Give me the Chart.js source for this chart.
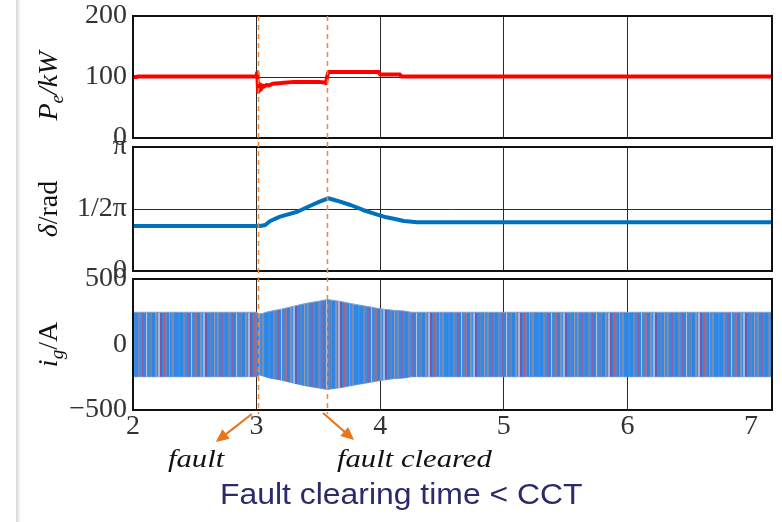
<!DOCTYPE html>
<html lang="en">
<head>
<meta charset="UTF-8">
<title>Fault clearing time &lt; CCT</title>
<script src="https://cdn.jsdelivr.net/npm/chart.js"></script>
<style>
  body { margin: 0; background: #fff; }
  #tela { position: relative; width: 782px; height: 522px; overflow: hidden; }
  #tela canvas { position: absolute; left: 0; }
  .faixa { position: absolute; left: 16px; top: 0; width: 5px; height: 522px;
           background: linear-gradient(to right, #d6d6d6, #ececec, #ffffff); }
  .nota { position: absolute; font-family: "Liberation Serif", "Times New Roman", serif;
          font-style: italic; font-size: 26px; color: #111; white-space: nowrap;
          transform-origin: left top; transform: scaleX(1.18); }
  #titulo { position: absolute; left: 220px; top: 478px; white-space: nowrap;
            font-family: "Liberation Sans", Arial, sans-serif; font-size: 29px; color: #2b2a6b;
            transform-origin: left top; transform: scaleX(1.1); }
</style>
</head>
<body>
<div id="tela">
  <div class="faixa"></div>
  <canvas id="g1" width="782" height="155" style="top:0px"></canvas>
  <canvas id="g2" width="782" height="155" style="top:130px"></canvas>
  <canvas id="g3" width="782" height="180" style="top:265px"></canvas>
  <canvas id="marcas" width="782" height="522" style="top:0px;pointer-events:none"></canvas>
  <div class="nota" style="left:168px;top:444px">fault</div>
  <div class="nota" style="left:337px;top:444px">fault cleared</div>
  <div id="titulo">Fault clearing time &lt; CCT</div>
</div>

<script>
    // dados
    const xTicks = [2, 3, 4, 5, 6, 7];
    const faultTime = 3.01;
    const clearTime = 3.57;

    // potencia eletrica (kW)
    const powerTime = [2.00, 2.03, 2.035, 3.00, 3.004, 3.008, 3.012, 3.016, 3.02, 3.025, 3.03, 3.035, 3.04, 3.05, 3.06, 3.08, 3.10, 3.13, 3.20, 3.30, 3.40, 3.50, 3.55, 3.562, 3.57, 3.58, 3.80, 3.99, 4.00, 4.16, 4.17, 5.00, 6.00, 7.17];
    const powerKW = [100, 100, 101, 101, 107, 95, 76, 90, 78, 88, 80, 87, 82, 86, 84, 87, 86, 89, 90, 92, 92, 92, 91, 90, 100, 108, 108, 108, 104, 104, 101, 101, 101, 101];
    const powerTicks = [0, 100, 200];
    const powerLabels = ['0', '100', '200'];

    // angulo delta (rad)
    const deltaTime = [2.0, 3.03, 3.07, 3.11, 3.19, 3.33, 3.43, 3.51, 3.58, 3.65, 3.76, 3.86, 3.97, 4.05, 4.13, 4.19, 4.30, 7.17];
    const deltaRad = [1.14, 1.14, 1.165, 1.266, 1.376, 1.502, 1.647, 1.756, 1.842, 1.781, 1.672, 1.546, 1.436, 1.360, 1.310, 1.266, 1.234, 1.234];
    const deltaTicks = [0, Math.PI / 2, Math.PI];
    const deltaLabels = ['0', '1/2\u03c0', '\u03c0'];

    // envoltoria da corrente ig (A)
    const currentTime = [2.0, 3.0, 3.02, 3.05, 3.1, 3.2, 3.3, 3.4, 3.5, 3.57, 3.6, 3.7, 3.8, 3.9, 4.0, 4.1, 4.2, 4.25, 7.17];
    const currentUpper = [246, 246, 232, 238, 252, 270, 292, 314, 330, 343, 340, 325, 306, 290, 272, 262, 255, 246, 246];
    const currentLower = [-246, -246, -232, -240, -255, -272, -295, -316, -332, -343, -340, -326, -308, -292, -275, -262, -255, -246, -246];
    const currentTicks = [-500, 0, 500];
    const currentLabels = ['\u2212500', '0', '500'];

    const serif = '"Liberation Serif", "Times New Roman", serif';

    function pontos(xs, ys) {
        return xs.map((x, i) => ({ x: x, y: ys[i] }));
    }

    function eixoX(mostrar) {
        return {
            type: 'linear', min: 2, max: 7.17,
            afterBuildTicks: s => { s.ticks = xTicks.map(v => ({ value: v })); },
            afterFit: s => { s.height = mostrar ? 35 : 0; },
            grid: {
                color: c => (c.tick && [3, 4, 5, 6].includes(c.tick.value)) ? '#2a2a2a' : 'rgba(0,0,0,0)',
                drawTicks: false, lineWidth: 1
            },
            border: { display: false },
            ticks: { display: mostrar, font: { family: serif, size: 28, lineHeight: 0.5 }, color: '#333', padding: 10, maxRotation: 0 }
        };
    }

    function eixoY(min, max, valores, rotulos, linha) {
        return {
            min: min, max: max,
            afterBuildTicks: s => { s.ticks = valores.map(v => ({ value: v })); },
            afterFit: s => { s.width = 133; },
            grid: {
                color: c => (c.tick && c.tick.value === linha) ? '#2a2a2a' : 'rgba(0,0,0,0)',
                drawTicks: false
            },
            border: { display: false },
            ticks: { font: { family: serif, size: 28, lineHeight: 0.4 }, color: '#333', padding: 6, callback: (v, i) => rotulos[i] }
        };
    }

    // moldura preta em volta da area do grafico
    const moldura = {
        id: 'moldura',
        afterDraw(chart) {
            const c = chart.ctx, a = chart.chartArea;
            c.save();
            c.strokeStyle = '#111';
            c.lineWidth = 2;
            c.strokeRect(a.left, a.top, a.right - a.left, a.bottom - a.top);
            c.restore();
        }
    };

    // titulo do eixo y com subscrito
    const tituloY = {
        id: 'tituloY',
        afterDraw(chart, args, opts) {
            const c = chart.ctx, a = chart.chartArea;
            c.save();
            c.translate(47, (a.top + a.bottom) / 2 + (opts.desloca || 0));
            c.rotate(-Math.PI / 2);
            c.textBaseline = 'alphabetic';
            c.fillStyle = '#111';
            let w = 0;
            opts.partes.forEach(p => { c.font = p.f; w += c.measureText(p.t).width; });
            let x = -w / 2;
            opts.partes.forEach(p => {
                c.font = p.f;
                c.fillText(p.t, x, 10 + (p.dy || 0));
                x += c.measureText(p.t).width;
            });
            c.restore();
        }
    };

    function base(padding, mostrarX, eixo, partes, desloca) {
        return {
            responsive: false,
            animation: false,
            layout: { padding: padding },
            elements: { point: { radius: 0 }, line: { tension: 0, borderJoinStyle: 'round' } },
            plugins: { legend: { display: false }, tooltip: { enabled: false }, tituloY: { partes: partes, desloca: desloca } },
            scales: { x: eixoX(mostrarX), y: eixo }
        };
    }

    const it = 'italic 28px ' + serif;
    const itSub = 'italic 19px ' + serif;
    const rm = '28px ' + serif;

    const g1 = new Chart(document.getElementById('g1'), {
        type: 'line',
        data: { datasets: [{ data: pontos(powerTime, powerKW), borderColor: '#ff0000', borderWidth: 4 }] },
        options: base({ top: 16, right: 10, bottom: 17, left: 0 }, false,
            eixoY(0, 200, powerTicks, powerLabels, 100),
            [{ t: 'P', f: it }, { t: 'e', f: itSub, dy: 6 }, { t: '/kW', f: it }], 9),
        plugins: [moldura, tituloY]
    });

    const g2 = new Chart(document.getElementById('g2'), {
        type: 'line',
        data: { datasets: [{ data: pontos(deltaTime, deltaRad), borderColor: '#0072bd', borderWidth: 4 }] },
        options: base({ top: 17, right: 10, bottom: 14, left: 0 }, false,
            eixoY(0, Math.PI, deltaTicks, deltaLabels, Math.PI / 2),
            [{ t: '\u03b4', f: it }, { t: '/rad', f: rm }], 0),
        plugins: [moldura, tituloY]
    });

    // listras que imitam o sinal trifasico de alta frequencia
    function listras(ctx) {
        const cores = [['#2f88e6', 3], ['#7a86ac', 2], ['#3a8ee8', 2], ['#8a62a6', 2], ['#2f86e4', 2], ['#b8c2d4', 1],
            ['#3b8de4', 2], ['#6b7fae', 2], ['#a0709c', 1], ['#2c85e4', 3], ['#8793ad', 2], ['#3a8ce6', 1],
            ['#9ab8e2', 2], ['#7658a4', 2], ['#3389e6', 2], ['#b0607c', 1], ['#5e82c4', 2], ['#2f88e6', 2],
            ['#9a9aa8', 1], ['#3a8ee8', 2], ['#7f8cae', 2], ['#2f88e6', 3], ['#8a62a6', 1], ['#3a8ee8', 2]];
        const w = cores.reduce((s, c) => s + c[1], 0);
        const cv = document.createElement('canvas');
        cv.width = w; cv.height = 4;
        const g = cv.getContext('2d');
        let x = 0;
        cores.forEach(([cor, l]) => { g.fillStyle = cor; g.fillRect(x, 0, l, 4); x += l; });
        return ctx.createPattern(cv, 'repeat');
    }

    const c3 = document.getElementById('g3');
    const g3 = new Chart(c3, {
        type: 'line',
        data: {
            datasets: [
                { data: pontos(currentTime, currentUpper), fill: '+1', backgroundColor: listras(c3.getContext('2d')), borderColor: '#7aa2d8', borderWidth: 1 },
                { data: pontos(currentTime, currentLower), fill: false, borderColor: '#7aa2d8', borderWidth: 1 }
            ]
        },
        options: base({ top: 14, right: 10, bottom: 0, left: 0 }, true,
            eixoY(-500, 500, currentTicks, currentLabels, null),
            [{ t: 'i', f: it }, { t: 'g', f: itSub, dy: 6 }, { t: '/A', f: rm }], 0),
        plugins: [moldura, tituloY]
    });

    // linhas tracejadas e setas de anotacao
    function desenharMarcas() {
        const ctx = document.getElementById('marcas').getContext('2d');
        const xs = g3.scales.x;
        const topo = g1.chartArea.top;
        const fim = 265 + g3.chartArea.bottom + 4;
        ctx.strokeStyle = '#f0883a';
        ctx.lineWidth = 1.5;
        ctx.setLineDash([5, 4]);
        [faultTime, clearTime].forEach(t => {
            const px = Math.round(xs.getPixelForValue(t)) + 0.5;
            ctx.beginPath();
            ctx.moveTo(px, topo);
            ctx.lineTo(px, fim);
            ctx.stroke();
        });
        ctx.setLineDash([]);

        function seta(x0, y0, x1, y1) {
            const ang = Math.atan2(y1 - y0, x1 - x0);
            ctx.strokeStyle = '#e8761c';
            ctx.fillStyle = '#e8761c';
            ctx.lineWidth = 2.2;
            ctx.beginPath();
            ctx.moveTo(x0, y0);
            ctx.lineTo(x1 - 8 * Math.cos(ang), y1 - 8 * Math.sin(ang));
            ctx.stroke();
            ctx.beginPath();
            ctx.moveTo(x1, y1);
            ctx.lineTo(x1 - 13 * Math.cos(ang) + 6 * Math.sin(ang), y1 - 13 * Math.sin(ang) - 6 * Math.cos(ang));
            ctx.lineTo(x1 - 13 * Math.cos(ang) - 6 * Math.sin(ang), y1 - 13 * Math.sin(ang) + 6 * Math.cos(ang));
            ctx.closePath();
            ctx.fill();
        }
        const xf = xs.getPixelForValue(faultTime);
        const xc = xs.getPixelForValue(clearTime);
        seta(xf - 6, 414, xf - 42, 442);
        seta(xc - 4, 413, xc + 27, 440);
    }
    desenharMarcas();
</script>
</body>
</html>
